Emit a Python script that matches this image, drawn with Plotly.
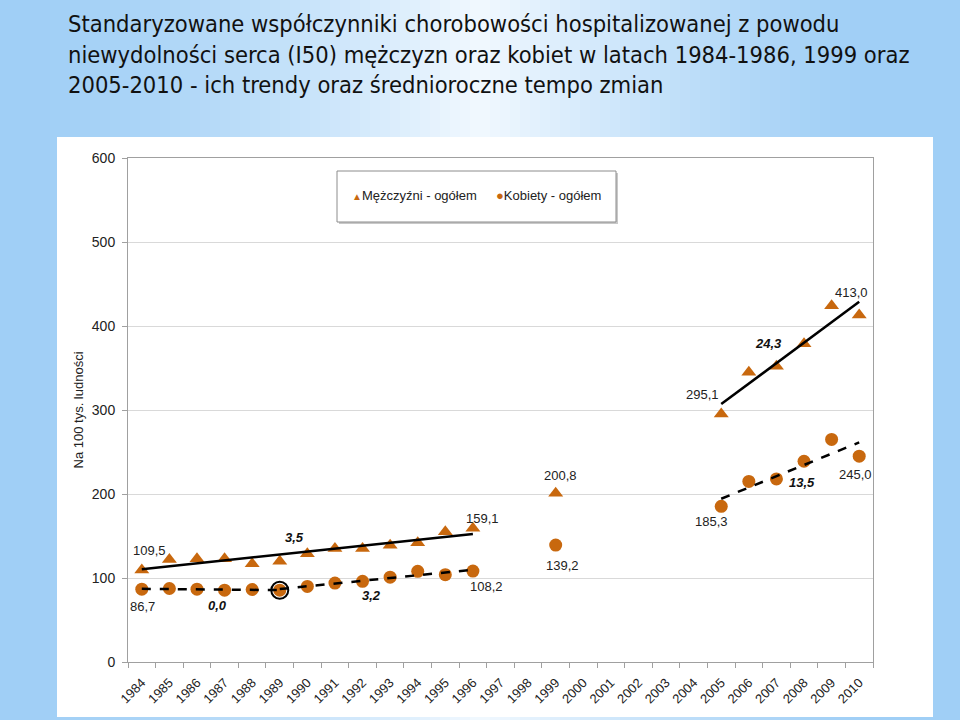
import numpy as np
import plotly.graph_objects as go

# ---------------- data ----------------
years_a = [1984, 1985, 1986, 1987, 1988, 1989, 1990, 1991, 1992, 1993, 1994, 1995, 1996]
men_a = [109.5, 122, 123, 123, 117, 120, 129, 135, 135, 139, 142, 155, 159.1]
women_a = [86.7, 87.5, 86.7, 85.5, 86.3, 85.5, 90, 94, 96, 101, 108, 104, 108.2]

years_b = [1999]
men_b = [200.8]
women_b = [139.2]

years_c = [2005, 2006, 2007, 2008, 2009, 2010]
men_c = [295.1, 345, 352, 379, 424, 413.0]
women_c = [185.3, 215, 218, 239, 265, 245.0]

all_years = list(range(1984, 2011))
tick_labels = [str(y) for y in all_years]

rate_labels = ["3,5", "0,0", "3,2", "24,3", "13,5"]

series_names = ["Mężczyźni - ogółem", "Kobiety - ogółem"]
title_text = ("Standaryzowane współczynniki chorobowości hospitalizowanej z powodu<br>"
              "niewydolności serca (I50) mężczyzn oraz kobiet w latach 1984-1986, 1999 oraz<br>"
              "2005-2010 - ich trendy oraz średnioroczne tempo zmian")
y_title = "Na 100 tys. ludności"

# ---------------- layout geometry ----------------
W, H = 960, 720
L, R, T, B = 128, 873, 158, 662
pw, ph = R - L, B - T


def px2x(px):
    return (px - L) / pw


def px2y(py):
    return (B - py) / ph


ORANGE = "#c8680e"
FONT = "Liberation Sans, Arial"
fmt = lambda v: f"{v:.1f}".replace(".", ",")

fig = go.Figure()

men_x = years_a + years_b + years_c
men_y = men_a + men_b + men_c
wom_x = years_a + years_b + years_c
wom_y = women_a + women_b + women_c

fig.add_trace(go.Scatter(x=men_x, y=men_y, mode="markers", name=series_names[0], showlegend=False,
                         marker=dict(symbol="triangle-up", size=13, color=ORANGE)))
fig.add_trace(go.Scatter(x=wom_x, y=wom_y, mode="markers", name=series_names[1], showlegend=False,
                         marker=dict(symbol="circle", size=13, color=ORANGE)))


def trend(xs, ys, dash):
    k, b = np.polyfit(xs, ys, 1)
    x0, x1 = xs[0], xs[-1]
    fig.add_trace(go.Scatter(x=[x0, x1], y=[k * x0 + b, k * x1 + b], mode="lines",
                             showlegend=False, hoverinfo="skip",
                             line=dict(color="black", width=2.5, dash=dash)))


trend(years_a, men_a, "solid")
trend(years_c, men_c, "solid")
i89 = years_a.index(1989)
trend(years_a[:i89 + 1], women_a[:i89 + 1], "dash")
trend(years_a[i89:], women_a[i89:], "dash")
trend(years_c, women_c, "dash")

# circled break point
fig.add_trace(go.Scatter(x=[1989], y=[women_a[i89]], mode="markers", showlegend=False,
                         marker=dict(symbol="circle-open", size=17, color="black",
                                     line=dict(width=2, color="black"))))

ann = []
lab_font = dict(family=FONT, size=13, color="#222222")


def vlabel(x, y, dx, dy):
    ann.append(dict(x=x, y=y, xref="x", yref="y", text=fmt(y), showarrow=False,
                    xshift=dx, yshift=dy, font=lab_font))


vlabel(years_a[0], men_a[0], 8, 20)
vlabel(years_a[0], women_a[0], 1, -17)
vlabel(years_a[-1], men_a[-1], 10, 10)
vlabel(years_a[-1], women_a[-1], 14, -15)
vlabel(years_b[0], men_b[0], 5, 18)
vlabel(years_b[0], women_b[0], 7, -20)
vlabel(years_c[0], men_c[0], -19, 20)
vlabel(years_c[-1], men_c[-1], -8, 23)
vlabel(years_c[0], women_c[0], -10, -15)
vlabel(years_c[-1], women_c[-1], -4, -18)

rate_pos = [(1989.55, 148.5), (1986.73, 67.7), (1992.31, 79.6), (2006.73, 379), (2007.93, 213.9)]
for txt, (rx, ry) in zip(rate_labels, rate_pos):
    ann.append(dict(x=rx, y=ry, xref="x", yref="y", text=f"<b><i>{txt}</i></b>", showarrow=False,
                    font=dict(family=FONT, size=13, color="#111111")))

# legend (drawn as text)
ann.append(dict(x=px2x(350), y=px2y(196), xref="paper", yref="paper", xanchor="left", yanchor="middle",
                showarrow=False, font=dict(family=FONT, size=13, color="#222222"),
                text=f"<span style='color:{ORANGE};font-size:10px'>▲</span>{series_names[0]}"))
ann.append(dict(x=px2x(494), y=px2y(196), xref="paper", yref="paper", xanchor="left", yanchor="middle",
                showarrow=False, font=dict(family=FONT, size=13, color="#222222"),
                text=f"<span style='color:{ORANGE};font-size:13px'>●</span>{series_names[1]}"))

# title
ann.append(dict(x=px2x(66), y=px2y(8), xref="paper", yref="paper", xanchor="left", yanchor="top",
                align="left", text=title_text, showarrow=False,
                font=dict(family="DejaVu Sans Condensed", size=23.5, color="#111111")))

# y-axis title
ann.append(dict(x=px2x(68), y=px2y(410), xref="paper", yref="paper", text=y_title, textangle=-90,
                showarrow=False, font=dict(family=FONT, size=13, color="#222222")))

# ---------------- background shapes ----------------
shapes = []
blue = np.array([160, 207, 246])
white = np.array([242, 249, 255])
step = 10
for x0 in range(0, W, step):
    xc = x0 + step / 2
    if xc <= 480:
        f = (xc / 480) ** 1.6
    else:
        f = max(0.0, 1 - (xc - 480) / 390) ** 1.3
    c = blue + (white - blue) * f
    col = f"rgb({int(c[0])},{int(c[1])},{int(c[2])})"
    shapes.append(dict(type="rect", xref="paper", yref="paper", layer="below",
                       x0=px2x(x0), x1=px2x(x0 + step + 1), y0=px2y(H), y1=px2y(0),
                       fillcolor=col, line=dict(width=0)))
# white chart box
shapes.append(dict(type="rect", xref="paper", yref="paper", layer="below",
                   x0=px2x(57), x1=px2x(933), y0=px2y(717), y1=px2y(137),
                   fillcolor="white", line=dict(width=0)))
# legend box shadow + box
shapes.append(dict(type="rect", xref="paper", yref="paper", layer="below",
                   x0=px2x(339), x1=px2x(618), y0=px2y(224), y1=px2y(173),
                   fillcolor="#c8c8c8", line=dict(width=0)))
shapes.append(dict(type="rect", xref="paper", yref="paper", layer="below",
                   x0=px2x(337), x1=px2x(616), y0=px2y(222), y1=px2y(171),
                   fillcolor="white", line=dict(width=1, color="#8c8c8c")))

fig.update_layout(
    width=W, height=H,
    margin=dict(l=L, r=W - R, t=T, b=H - B),
    paper_bgcolor="white",
    plot_bgcolor="rgba(0,0,0,0)",
    shapes=shapes,
    annotations=ann,
    showlegend=False,
    xaxis=dict(range=[1983.5, 2010.5], tickvals=all_years, ticktext=tick_labels, tickangle=-45,
               ticks="", showgrid=False, zeroline=False, showline=True, linecolor="#a0a0a0",
               mirror=True, ticklabelstandoff=7,
               tickfont=dict(family=FONT, size=13, color="#222222"),
               minor=dict(tickvals=[y - 0.5 for y in all_years] + [2010.5], ticks="outside",
                          ticklen=5, tickcolor="#a0a0a0", showgrid=False)),
    yaxis=dict(range=[0, 600], dtick=100, gridcolor="#d9d9d9", showgrid=True, zeroline=False,
               showline=True, linecolor="#a0a0a0", mirror=True, ticks="outside", ticklen=5,
               tickcolor="#a0a0a0", ticklabelstandoff=4,
               tickfont=dict(family=FONT, size=14, color="#222222")),
)

fig.write_html("out.html", config={"displayModeBar": False},
               post_script="document.body.style.margin='0';document.body.style.overflow='hidden';")
